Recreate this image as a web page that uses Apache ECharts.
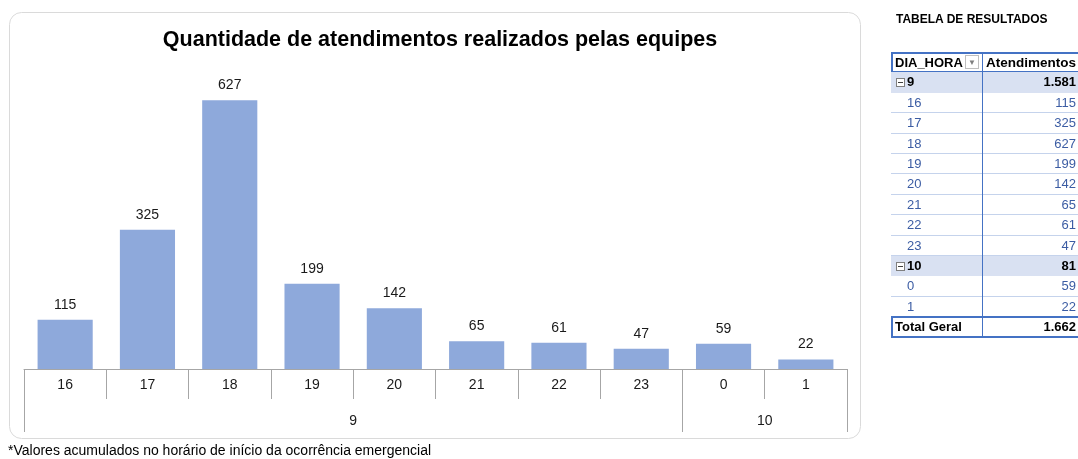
<!DOCTYPE html>
<html><head><meta charset="utf-8">
<script src="https://cdn.jsdelivr.net/npm/echarts@6/dist/echarts.min.js"></script>
<style>
html,body{margin:0;padding:0;width:1078px;height:459px;overflow:hidden;background:#fff;font-family:"Liberation Sans",Arial,sans-serif;}
#chart{position:absolute;left:0;top:0;width:1078px;height:459px;}
#tbl{position:absolute;left:0;top:0;width:1078px;height:459px;pointer-events:none;}
.row{position:absolute;left:891px;width:200px;box-sizing:border-box;font-size:13px;color:#000;}
.c1{position:absolute;left:4px;top:0;white-space:nowrap;}
.c2{position:absolute;left:91px;width:94px;top:0;text-align:right;white-space:nowrap;}
.tt{position:absolute;left:896px;top:12px;font-size:12px;font-weight:bold;color:#000;white-space:nowrap;}
</style>
</head><body>
<div id="chart"></div>
<div id="tbl"></div>
<script>
// ---- data ----
const hours = ['16','17','18','19','20','21','22','23','0','1'];
const values = [115, 325, 627, 199, 142, 65, 61, 47, 59, 22];
const days = ['9', '10'];
const daySizes = [8, 2];
const dayTotals = [1581, 81];
const grandTotal = 1662;
const titleText = 'Quantidade de atendimentos realizados pelas equipes';
const footText = '*Valores acumulados no horário de início da ocorrência emergencial';
const tableTitle = 'TABELA DE RESULTADOS';
const headers = ['DIA_HORA', 'Atendimentos'];
const totalLabel = 'Total Geral';

function fmt(n){ return String(n).replace(/\B(?=(\d{3})+(?!\d))/g, '.'); }

const groupEdges = [0];
daySizes.forEach(n => groupEdges.push(groupEdges[groupEdges.length-1] + n));
const groupCenters = daySizes.map((n,i) => groupEdges[i] + n/2);

const axisGray = '#a6a6a6';
const chart = echarts.init(document.getElementById('chart'), null, {renderer:'canvas'});
chart.setOption({
  animation: false,
  textStyle: {fontFamily: 'Liberation Sans'},
  grid: {left: 24, right: 231, top: 69, bottom: 90, containLabel: false},
  xAxis: [{
    type: 'category', data: hours, position: 'bottom',
    axisLine: {show: true, lineStyle: {color: axisGray, width: 1}},
    axisTick: {show: true, length: 30, interval: 0, lineStyle: {color: axisGray}},
    axisLabel: {interval: 0, margin: 9, fontSize: 14, color: '#1a1a1a'},
    splitLine: {show: false}
  }, {
    type: 'value', min: 0, max: groupEdges[groupEdges.length-1], position: 'bottom',
    axisLine: {show: false},
    axisTick: {show: true, length: 63, customValues: groupEdges, lineStyle: {color: axisGray}},
    axisLabel: {show: true, customValues: groupCenters, margin: 45, fontSize: 14, color: '#1a1a1a',
      formatter: v => { const i = groupCenters.indexOf(v); return i >= 0 ? days[i] : ''; }},
    splitLine: {show: false}
  }],
  yAxis: {type: 'value', min: 0, max: 700, show: false, splitLine: {show: false}},
  graphic: [
    {type: 'rect', shape: {x: 9.5, y: 12.5, width: 851, height: 426, r: 12},
     style: {fill: 'none', stroke: '#dadada', lineWidth: 1}, z: -1},
    {type: 'text', x: 440, y: 40, style: {text: titleText, fontSize: 21.5, fontWeight: 'bold',
      fontFamily: 'Liberation Sans', fill: '#000', textAlign: 'center', textVerticalAlign: 'middle'}},
    {type: 'text', x: 8, y: 451, style: {text: footText, fontSize: 14,
      fontFamily: 'Liberation Sans', fill: '#000', textAlign: 'left', textVerticalAlign: 'middle'}}
  ],
  series: [{
    type: 'bar', data: values, xAxisIndex: 0, barWidth: '67%',
    itemStyle: {color: '#8EA9DB'},
    label: {show: true, position: 'top', distance: 8, fontSize: 14, color: '#1a1a1a'}
  }]
});

// ---- pivot table ----
const tbl = document.getElementById('tbl');
const top0 = 52, rh = 20.4;
function el(tag, cls, style, html){ const e=document.createElement(tag); if(cls) e.className=cls; if(style) e.style.cssText=style; if(html!==undefined) e.innerHTML=html; return e; }
tbl.appendChild(el('div','tt','',tableTitle));
let r = 0;
// header
const hdr = el('div','row',`top:${top0}px;height:21px;border:2px solid #4472C4;border-right:none;font-weight:bold;line-height:17px;font-size:13px;`);
hdr.appendChild(el('span','c1','left:2px;',headers[0]));
hdr.appendChild(el('span','', 'position:absolute;left:72px;top:1px;width:14px;height:14px;border:1px solid #bfbfbf;box-sizing:border-box;font-size:8px;line-height:13px;text-align:center;color:#7f7f7f;font-weight:normal;','&#9660;'));
hdr.appendChild(el('span','c2','left:89px;width:94px;font-size:13.5px;',headers[1]));
tbl.appendChild(hdr);
r = 1;
let hi = 0;
days.forEach((d, di) => {
  const y = top0 + r*rh;
  const g = el('div','row',`top:${y}px;height:${rh}px;background:#D9E1F2;font-weight:bold;line-height:${rh}px;`);
  g.appendChild(el('span','', 'position:absolute;left:5px;top:6px;width:9px;height:9px;border:1px solid #7f7f7f;box-sizing:border-box;background:#fff;'));
  g.appendChild(el('span','', 'position:absolute;left:7px;top:10px;width:5px;height:1px;background:#404040;'));
  g.appendChild(el('span','c1','left:16px;', d));
  g.appendChild(el('span','c2','', fmt(dayTotals[di])));
  tbl.appendChild(g);
  r++;
  for (let k = 0; k < daySizes[di]; k++) {
    const yy = top0 + r*rh;
    const s = el('div','row',`top:${yy}px;height:${rh}px;line-height:${rh}px;color:#3B5CA3;border-bottom:1px solid #C5D3EC;`);
    s.appendChild(el('span','c1','left:16px;', hours[hi]));
    s.appendChild(el('span','c2','', fmt(values[hi])));
    tbl.appendChild(s);
    hi++; r++;
  }
});
const ty = top0 + r*rh;
const tot = el('div','row',`top:${ty-1}px;height:22px;border:2px solid #4472C4;border-right:none;font-weight:bold;line-height:18px;`);
tot.appendChild(el('span','c1','left:2px;', totalLabel));
tot.appendChild(el('span','c2','left:89px;width:94px;', fmt(grandTotal)));
tbl.appendChild(tot);
tbl.appendChild(el('div','', `position:absolute;left:982px;top:${top0}px;width:1px;height:${ty+21-top0}px;background:#4472C4;`));
</script>
</body></html>
